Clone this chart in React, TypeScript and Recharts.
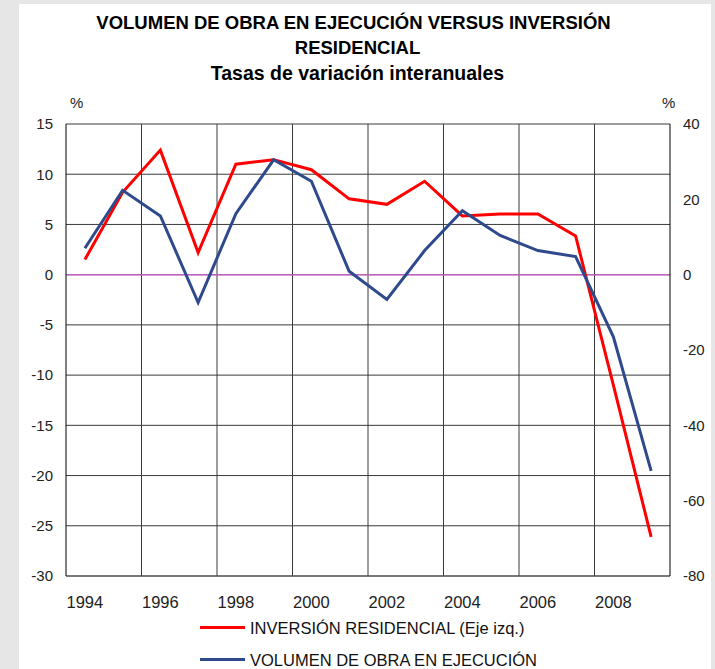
import {
  LineChart,
  Line,
  XAxis,
  YAxis,
  CartesianGrid,
  ReferenceLine,
} from "recharts";

const YEARS = [
  1994, 1995, 1996, 1997, 1998, 1999, 2000, 2001,
  2002, 2003, 2004, 2005, 2006, 2007, 2008, 2009,
];
// Inversión residencial, % (eje izquierdo)
const INVERSION = [
  1.5, 8.2, 12.4, 2.2, 11.0, 11.45, 10.45, 7.55,
  7.0, 9.3, 5.85, 6.05, 6.05, 3.85, -11.0, -26.1,
];
// Volumen de obra en ejecución, % (eje derecho)
const VOLUMEN = [
  7.0, 22.4, 15.6, -7.4, 16.2, 30.5, 24.8, 0.9,
  -6.6, 6.4, 17.0, 10.4, 6.4, 4.8, -16.5, -52.1,
];
const X_TICKS = [1994, 1996, 1998, 2000, 2002, 2004, 2006, 2008];
const X_GRID = [1995.5, 1997.5, 1999.5, 2001.5, 2003.5, 2005.5, 2007.5];
const LEFT_TICKS = [-30, -25, -20, -15, -10, -5, 0, 5, 10, 15];
const RIGHT_TICKS = [-80, -60, -40, -20, 0, 20, 40];

const RED = "#ff0000";
const BLUE = "#2f4a8c";
const FONT = "'Liberation Sans', Arial, sans-serif";

const data = YEARS.map((year, i) => ({
  year,
  inversion: INVERSION[i],
  volumen: VOLUMEN[i],
}));

const tickStyle = { fontSize: 15, fill: "#222", fontFamily: FONT };

export default function App() {
  return (
    <div
      style={{
        position: "absolute",
        left: 0,
        top: 0,
        width: 715,
        height: 669,
        background: "#e6e6e6",
        fontFamily: FONT,
        overflow: "hidden",
      }}
    >
      <div
        style={{
          position: "absolute",
          left: 19,
          top: 4,
          width: 692,
          height: 665,
          background: "#fff",
        }}
      />
      <div
        style={{
          position: "absolute",
          left: 0,
          width: 715,
          top: 10,
          textAlign: "center",
          fontWeight: "bold",
          fontSize: 18.5,
          lineHeight: "25px",
          color: "#000",
        }}
      >
        <div style={{ paddingRight: 8 }}>VOLUMEN DE OBRA EN EJECUCIÓN VERSUS INVERSIÓN</div>
        <div>RESIDENCIAL</div>
        <div style={{ fontSize: 19.5, marginTop: 1 }}>Tasas de variación interanuales</div>
      </div>
      <div style={{ position: "absolute", left: 70, top: 94, fontSize: 15, color: "#222" }}>%</div>
      <div style={{ position: "absolute", left: 662, top: 94, fontSize: 15, color: "#222" }}>%</div>

      <div style={{ position: "absolute", left: 0, top: 0 }}>
        <LineChart
          width={715}
          height={669}
          data={data}
          margin={{ top: 124, right: 0, bottom: 53, left: 0 }}
        >
          <CartesianGrid
            yAxisId="left"
            vertical={false}
            stroke="#3a3a3a"
            strokeWidth={1}
          />
          <XAxis
            dataKey="year"
            type="number"
            domain={[1993.5, 2009.5]}
            ticks={X_TICKS}
            interval={0}
            height={40}
            tickLine={false}
            tickSize={0}
            tickMargin={20}
            axisLine={{ stroke: "#555" }}
            tick={{ ...tickStyle, fontSize: 16.5 }}
          />
          <YAxis
            yAxisId="left"
            domain={[-30, 15]}
            ticks={LEFT_TICKS}
            width={66}
            tickLine={false}
            tickSize={0}
            tickMargin={13}
            axisLine={{ stroke: "#000" }}
            tick={tickStyle}
          />
          <YAxis
            yAxisId="right"
            orientation="right"
            domain={[-80, 40]}
            ticks={RIGHT_TICKS}
            width={45}
            tickLine={false}
            tickSize={0}
            tickMargin={13}
            axisLine={{ stroke: "#000" }}
            tick={tickStyle}
          />
          {X_GRID.map((x) => (
            <ReferenceLine key={x} x={x} yAxisId="left" stroke="#3a3a3a" strokeWidth={1} />
          ))}
          <ReferenceLine y={0} yAxisId="left" stroke="#c060c0" strokeWidth={1.5} />
          <Line
            yAxisId="left"
            dataKey="inversion"
            stroke={RED}
            strokeWidth={3}
            dot={false}
            type="linear"
            isAnimationActive={false}
          />
          <Line
            yAxisId="right"
            dataKey="volumen"
            stroke={BLUE}
            strokeWidth={3}
            dot={false}
            type="linear"
            isAnimationActive={false}
          />
        </LineChart>
      </div>

      <div style={{ position: "absolute", left: 200, top: 626, width: 45, height: 3, background: RED }} />
      <div style={{ position: "absolute", left: 250, top: 619, fontSize: 16.5, lineHeight: "18px", color: "#111" }}>
        INVERSIÓN RESIDENCIAL (Eje izq.)
      </div>
      <div style={{ position: "absolute", left: 200, top: 658, width: 45, height: 3, background: BLUE }} />
      <div style={{ position: "absolute", left: 250, top: 651, fontSize: 16.5, lineHeight: "18px", color: "#111" }}>
        VOLUMEN DE OBRA EN EJECUCIÓN
      </div>
    </div>
  );
}
